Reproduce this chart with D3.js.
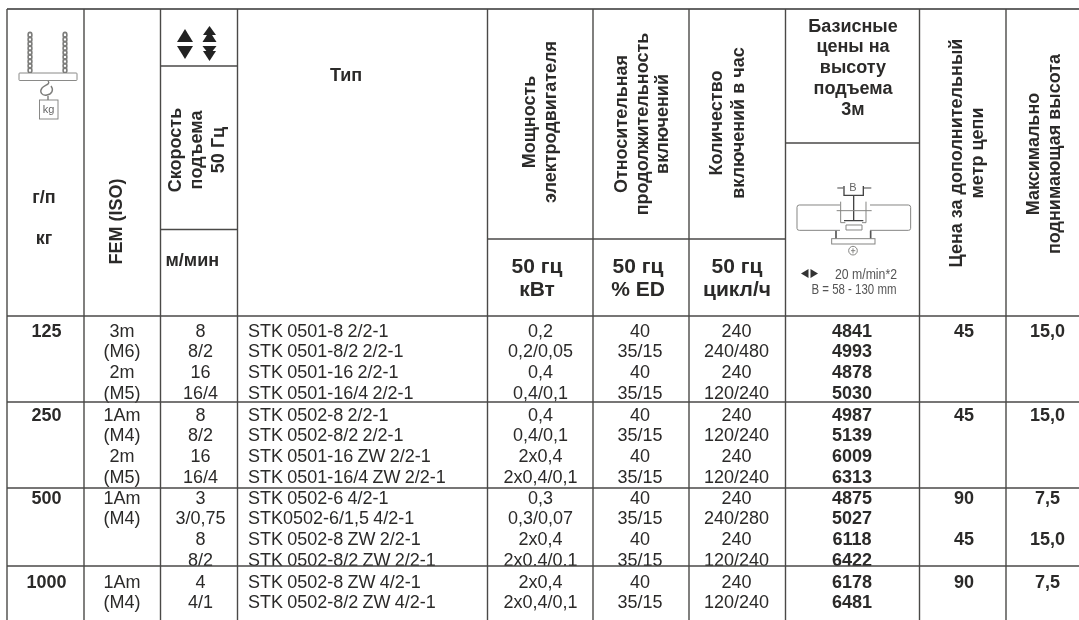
<!DOCTYPE html>
<html>
<head>
<meta charset="utf-8">
<script src="https://d3js.org/d3.v7.min.js"></script>
<style>
  html, body { margin: 0; padding: 0; background: #fff; overflow: hidden; }
  svg { filter: blur(0.35px); }
  text { font-family: "Liberation Sans", Arial, sans-serif; fill: #2b2a29; }
</style>
</head>
<body>
<svg id="chart"></svg>
<script>
// table values, one entry per printed line
const capacity = ["125", "", "", "", "250", "", "", "", "500", "", "", "", "1000", ""];
const fem = ["3m", "(M6)", "2m", "(M5)", "1Am", "(M4)", "2m", "(M5)", "1Am", "(M4)", "", "", "1Am", "(M4)"];
const speed = ["8", "8/2", "16", "16/4", "8", "8/2", "16", "16/4", "3", "3/0,75", "8", "8/2", "4", "4/1"];
const hoistType = [
    "STK 0501-8 2/2-1", "STK 0501-8/2 2/2-1", "STK 0501-16 2/2-1", "STK 0501-16/4 2/2-1",
    "STK 0502-8 2/2-1", "STK 0502-8/2 2/2-1", "STK 0501-16 ZW 2/2-1", "STK 0501-16/4 ZW 2/2-1",
    "STK 0502-6 4/2-1", "STK0502-6/1,5 4/2-1", "STK 0502-8 ZW 2/2-1", "STK 0502-8/2 ZW 2/2-1",
    "STK 0502-8 ZW 4/2-1", "STK 0502-8/2 ZW 4/2-1"
];
const power = ["0,2", "0,2/0,05", "0,4", "0,4/0,1", "0,4", "0,4/0,1", "2x0,4", "2x0,4/0,1", "0,3", "0,3/0,07", "2x0,4", "2x0,4/0,1", "2x0,4", "2x0,4/0,1"];
const duty = ["40", "35/15", "40", "35/15", "40", "35/15", "40", "35/15", "40", "35/15", "40", "35/15", "40", "35/15"];
const cycles = ["240", "240/480", "240", "120/240", "240", "120/240", "240", "120/240", "240", "240/280", "240", "120/240", "240", "120/240"];
const basePrice = [4841, 4993, 4878, 5030, 4987, 5139, 6009, 6313, 4875, 5027, 6118, 6422, 6178, 6481];
const extraMeter = ["45", "", "", "", "45", "", "", "", "90", "", "45", "", "90", ""];
const maxHeight = ["15,0", "", "", "", "15,0", "", "", "", "7,5", "", "15,0", "", "7,5", ""];

const blockSizes = [4, 4, 4, 2];

const width = 1079, height = 620;
const svg = d3.select("#chart").attr("width", width).attr("height", height).style("display", "block");

// layout
const colEdges = [7, 84, 160.5, 237.5, 487.5, 593, 689, 785.5, 919.5, 1006];
const blockLines = [316, 402, 488, 566];
const blockFirst = [336.5, 420.5, 503.5, 587.5];
const lineColor = "#4a4947";

const rowY = d3.scaleLinear().domain([0, 3]).range([0, 62.5]);

// text rows of the body
const columns = [
    { values: capacity, x: 46.5, bold: true },
    { values: fem, x: 122 },
    { values: speed, x: 200.5 },
    { values: hoistType, x: 248, left: true },
    { values: power, x: 540.5 },
    { values: duty, x: 640 },
    { values: cycles, x: 736.5 },
    { values: basePrice, x: 852, bold: true },
    { values: extraMeter, x: 964, bold: true },
    { values: maxHeight, x: 1047.5, bold: true }
];

// flat line index -> baseline
const baselines = [];
blockSizes.forEach((n, b) => d3.range(n).forEach(i => baselines.push(blockFirst[b] + rowY(i))));

const body = svg.append("g").attr("font-size", 18);
columns.forEach(col => {
    body.selectAll(null)
        .data(col.values)
        .enter().append("text")
        .attr("x", col.x)
        .attr("y", (d, i) => baselines[i])
        .attr("text-anchor", col.left ? "start" : "middle")
        .attr("font-weight", col.bold ? "bold" : "normal")
        .attr("word-spacing", col.left ? -0.8 : 0)
        .text(d => d);
});

// white strip so the clipped line of the third block stops at the rule
svg.append("rect").attr("x", colEdges[0]).attr("y", blockLines[3]).attr("width", width - colEdges[0]).attr("height", 8).attr("fill", "#fff");

// header text
function rotated(lines, baseX, centerY, size) {
    lines.forEach((t, i) => {
        svg.append("text")
            .attr("transform", `translate(${baseX[i]},${centerY}) rotate(-90)`)
            .attr("text-anchor", "middle")
            .attr("font-weight", "bold")
            .attr("font-size", size)
            .text(t);
    });
}
function flat(t, x, y, size, anchor) {
    svg.append("text")
        .attr("x", x).attr("y", y)
        .attr("text-anchor", anchor || "middle")
        .attr("font-weight", "bold")
        .attr("font-size", size)
        .text(t);
}

rotated(["FEM (ISO)"], [122], 221.5, 18);
rotated(["Скорость", "подъема", "50 Гц"], [181, 202, 224], 150, 18);
rotated(["Мощность", "электродвигателя"], [535, 556], 122, 18);
rotated(["Относительная", "продолжительность", "включений"], [627, 648, 668], 124, 18);
rotated(["Количество", "включений в час"], [722, 744], 123, 18);
rotated(["Цена за дополнительный", "метр цепи"], [962, 983], 153, 18);
rotated(["Максимально", "поднимающая высота"], [1039, 1060], 154, 18);

flat("г/п", 44, 203, 18);
flat("кг", 44, 244, 18);
flat("м/мин", 165.5, 266, 18, "start");
flat("Тип", 346, 81, 18);
["Базисные", "цены на", "высоту", "подъема", "3м"].forEach((t, i) => flat(t, 853, [32, 52, 73, 94, 115][i], 18));
flat("50 гц", 537, 273, 21);
flat("кВт", 537, 296, 21);
flat("50 гц", 638, 273, 21);
flat("% ED", 638, 296, 21);
flat("50 гц", 737, 273, 21);
flat("цикл/ч", 737, 296, 21);

// grid
const grid = svg.append("g").attr("stroke", lineColor).attr("stroke-width", 1.4);
grid.append("line").attr("x1", colEdges[0]).attr("x2", width).attr("y1", 9).attr("y2", 9).attr("stroke", "#333");
grid.selectAll(null).data(colEdges).enter().append("line")
    .attr("x1", d => d).attr("x2", d => d).attr("y1", 9).attr("y2", height);
grid.selectAll(null).data(blockLines).enter().append("line")
    .attr("x1", colEdges[0]).attr("x2", width).attr("y1", d => d).attr("y2", d => d);
[[160.5, 237.5, 66], [160.5, 237.5, 229.5], [487.5, 785.5, 239], [785.5, 919.5, 143]].forEach(s => {
    grid.append("line").attr("x1", s[0]).attr("x2", s[1]).attr("y1", s[2]).attr("y2", s[2]);
});

// hoist pictogram top left
const hoist = svg.append("g").attr("fill", "none").attr("stroke", "#7d7d7b").attr("stroke-width", 0.9);
[30, 65].forEach(x => {
    hoist.selectAll(null).data(d3.range(9)).enter().append("ellipse")
        .attr("cx", x).attr("cy", i => 35 + i * 4.4).attr("rx", 1.9).attr("ry", 2.6)
        .attr("stroke-width", 1.6);
});
hoist.append("rect").attr("x", 19).attr("y", 73).attr("width", 58).attr("height", 7.5).attr("fill", "#fff").attr("rx", 0.8);
hoist.append("path").attr("d", "M48 81 C51 84 45 85 42 88 C39 92 42 96 47 95 C52 94 54 90 51 86 M48 96 V100").attr("stroke-width", 1.4);
hoist.append("rect").attr("x", 39.5).attr("y", 100).attr("width", 18.5).attr("height", 19);
svg.append("text").attr("x", 48.5).attr("y", 113).attr("text-anchor", "middle")
    .attr("font-size", 11).style("fill", "#666").text("kg");

// up/down arrows
const arrows = svg.append("g").attr("fill", "#222");
function tri(x, tip, base, w) {
    arrows.append("path").attr("d", `M${x} ${tip} L${x + w} ${base} L${x - w} ${base} Z`);
}
tri(185, 29, 42, 8); tri(185, 59, 46, 8);
tri(209.5, 26, 35, 6.5); tri(209.5, 31, 42, 7);
tri(209.5, 61, 51, 6.5); tri(209.5, 55, 46, 7);

// trolley pictogram
const ox = 780, oy = 180;
const trolley = svg.append("g").attr("transform", `translate(${ox},${oy}) scale(0.3333)`)
    .attr("fill", "none").attr("stroke", "#858583").attr("stroke-width", 3);
trolley.append("path").attr("d", "M180 75 H58 Q51 75 51 82 V145 Q51 151 58 151 H180");
trolley.append("path").attr("d", "M270 75 H385 Q392 75 392 82 V145 Q392 151 385 151 H270");
trolley.append("path").attr("stroke", "#444").attr("stroke-width", 4).attr("d", "M192 18 V46 H250 V18 M221 46 V122 M192 122 H250");
trolley.append("path").attr("stroke", "#444").attr("d", "M172 24 H190 M252 24 H274");
trolley.append("path").attr("d", "M182 65 V128 H196 M258 65 V128 H246 M170 92 H275 M198 135 H246 V150 H198 Z");
trolley.append("rect").attr("x", 155).attr("y", 176).attr("width", 130).attr("height", 16);
trolley.append("path").attr("stroke", "#555").attr("stroke-width", 5).attr("d", "M168 152 V175 M272 152 V175");
trolley.append("circle").attr("cx", 219).attr("cy", 212).attr("r", 13);
trolley.append("path").attr("d", "M219 205 V220 M213 212 H226");
svg.append("text").attr("x", 853).attr("y", 191).attr("text-anchor", "middle").attr("font-size", 11).style("fill", "#666").text("B");
const travel = svg.append("g").attr("fill", "#333");
travel.append("path").attr("d", "M801 273.5 L808.5 269 V278 Z");
travel.append("path").attr("d", "M818 273.5 L810.5 269 V278 Z");
const note = svg.append("g").attr("font-size", 14);
note.append("text").attr("x", 835).attr("y", 279).attr("textLength", 62).attr("lengthAdjust", "spacingAndGlyphs").style("fill", "#555").text("20 m/min*2");
note.append("text").attr("x", 811.5).attr("y", 294).attr("textLength", 85).attr("lengthAdjust", "spacingAndGlyphs").style("fill", "#555").text("B = 58 - 130 mm");
</script>
</body>
</html>
